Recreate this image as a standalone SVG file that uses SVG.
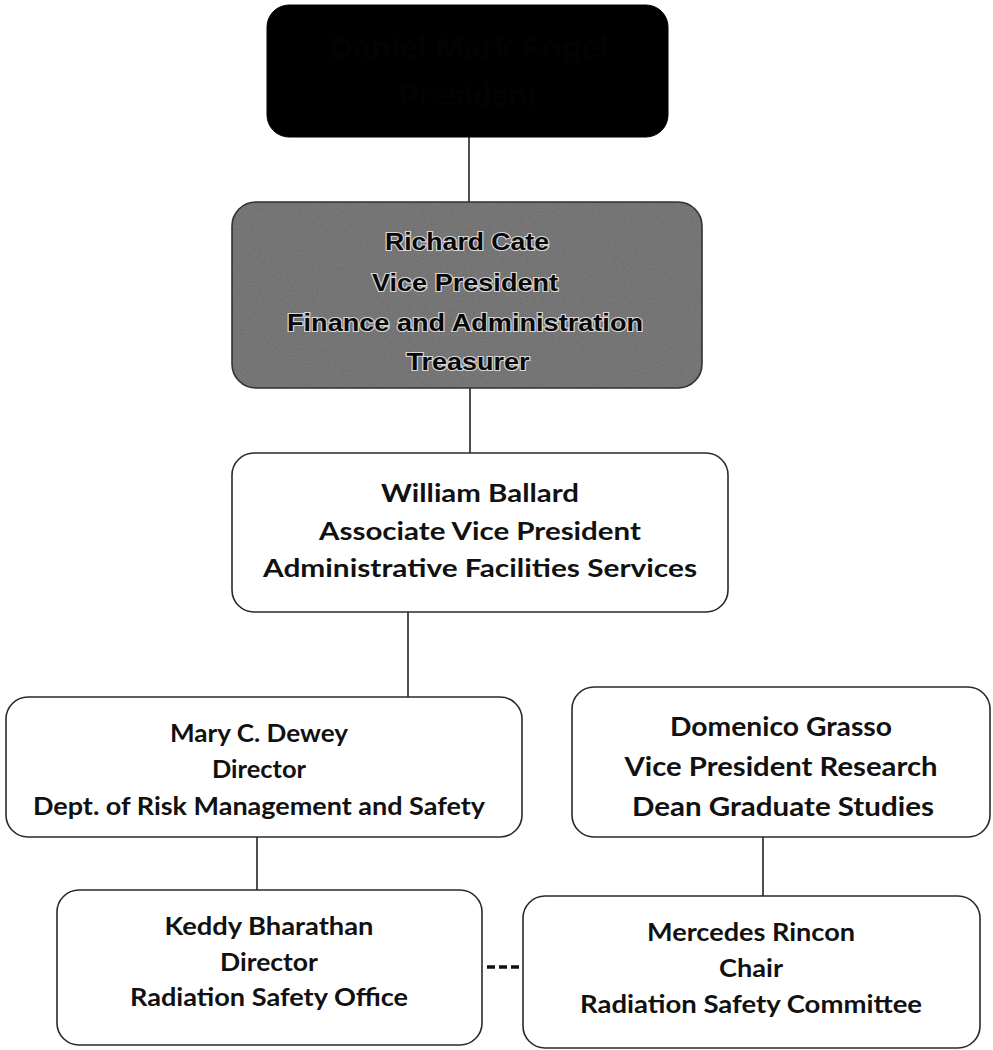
<svg xmlns="http://www.w3.org/2000/svg" width="993" height="1050" viewBox="0 0 993 1050">
<style>
.box{fill:#fff;stroke:#2a2a2a;stroke-width:1.6}
.t{font-family:Lato,"Open Sans","Liberation Sans",sans-serif;font-weight:700;fill:#111;text-anchor:middle}
.g{font-family:"Liberation Sans",Arial,sans-serif;font-weight:700;fill:#080808;text-anchor:middle;stroke:#d8d8d8;stroke-width:2.2;paint-order:stroke}
.c{stroke:#222;stroke-width:1.6;fill:none}
</style>
<defs>
<filter id="noise" x="0" y="0" width="100%" height="100%">
<feTurbulence type="fractalNoise" baseFrequency="0.9" numOctaves="2" seed="3" result="n"/>
<feColorMatrix in="n" type="matrix" values="0 0 0 0 0.42  0 0 0 0 0.42  0 0 0 0 0.42  0 0 0 0.55 0" result="m"/>
<feComposite in="m" in2="SourceGraphic" operator="in"/>
</filter>
</defs>
<g id="connectors">
<line class="c" x1="469" y1="137" x2="469" y2="203"/>
<line class="c" x1="470" y1="388" x2="470" y2="453"/>
<line class="c" x1="408" y1="612" x2="408" y2="697"/>
<line class="c" x1="257" y1="837" x2="257" y2="890"/>
<line class="c" x1="763" y1="837" x2="763" y2="896"/>
<line x1="487" y1="967" x2="523" y2="967" stroke="#111" stroke-width="3.5" stroke-dasharray="8,4"/>
</g>
<g id="president">
<rect x="267" y="5" width="401" height="132" rx="22" fill="#000" stroke="#000"/>
<text x="469" y="58" font-family="Liberation Sans,Arial,sans-serif" font-weight="700" font-size="30" fill="#030303" text-anchor="middle" textLength="280" lengthAdjust="spacingAndGlyphs">Daniel Mark Fogel</text>
<text x="468" y="106" font-family="Liberation Sans,Arial,sans-serif" font-weight="700" font-size="30" fill="#030303" text-anchor="middle" textLength="139" lengthAdjust="spacingAndGlyphs">President</text>
</g>
<g id="cate">
<rect x="232" y="202" width="470" height="186" rx="24" fill="#6a6a6a" stroke="#333" stroke-width="1.6"/>
<rect x="233" y="203" width="468" height="184" rx="23" fill="#fff" filter="url(#noise)" opacity="0.6"/>
<text class="g" x="467" y="250" font-size="24" textLength="164" lengthAdjust="spacingAndGlyphs">Richard Cate</text>
<text class="g" x="465" y="291" font-size="24" textLength="186" lengthAdjust="spacingAndGlyphs">Vice President</text>
<text class="g" x="465" y="331" font-size="24" textLength="356" lengthAdjust="spacingAndGlyphs">Finance and Administration</text>
<text class="g" x="468" y="370" font-size="24" textLength="123" lengthAdjust="spacingAndGlyphs">Treasurer</text>
</g>
<g id="ballard">
<rect class="box" x="232" y="453" width="496" height="159" rx="22"/>
<text class="t" x="480" y="502" font-size="25" textLength="198" lengthAdjust="spacingAndGlyphs">William Ballard</text>
<text class="t" x="480" y="540" font-size="25" textLength="322" lengthAdjust="spacingAndGlyphs">Associate Vice President</text>
<text class="t" x="480" y="577" font-size="25" textLength="434" lengthAdjust="spacingAndGlyphs">Administrative Facilities Services</text>
</g>
<g id="dewey">
<rect class="box" x="6" y="697" width="516" height="140" rx="22"/>
<text class="t" x="259" y="742" font-size="24" textLength="178" lengthAdjust="spacingAndGlyphs">Mary C. Dewey</text>
<text class="t" x="259" y="778" font-size="24" textLength="94" lengthAdjust="spacingAndGlyphs">Director</text>
<text class="t" x="259" y="815" font-size="24" textLength="452" lengthAdjust="spacingAndGlyphs">Dept. of Risk Management and Safety</text>
</g>
<g id="grasso">
<rect class="box" x="572" y="687" width="418" height="150" rx="22"/>
<text class="t" x="781" y="736" font-size="26" textLength="222" lengthAdjust="spacingAndGlyphs">Domenico Grasso</text>
<text class="t" x="781" y="776" font-size="26" textLength="313" lengthAdjust="spacingAndGlyphs">Vice President Research</text>
<text class="t" x="783" y="816" font-size="26" textLength="302" lengthAdjust="spacingAndGlyphs">Dean Graduate Studies</text>
</g>
<g id="bharathan">
<rect class="box" x="57" y="890" width="425" height="155" rx="22"/>
<text class="t" x="269" y="935" font-size="24" textLength="209" lengthAdjust="spacingAndGlyphs">Keddy Bharathan</text>
<text class="t" x="269" y="971" font-size="24" textLength="98" lengthAdjust="spacingAndGlyphs">Director</text>
<text class="t" x="269" y="1006" font-size="24" textLength="278" lengthAdjust="spacingAndGlyphs">Radiation Safety Office</text>
</g>
<g id="rincon">
<rect class="box" x="523" y="896" width="457" height="152" rx="22"/>
<text class="t" x="751" y="941" font-size="24" textLength="208" lengthAdjust="spacingAndGlyphs">Mercedes Rincon</text>
<text class="t" x="751" y="977" font-size="24" textLength="64" lengthAdjust="spacingAndGlyphs">Chair</text>
<text class="t" x="751" y="1013" font-size="24" textLength="342" lengthAdjust="spacingAndGlyphs">Radiation Safety Committee</text>
</g>
</svg>
